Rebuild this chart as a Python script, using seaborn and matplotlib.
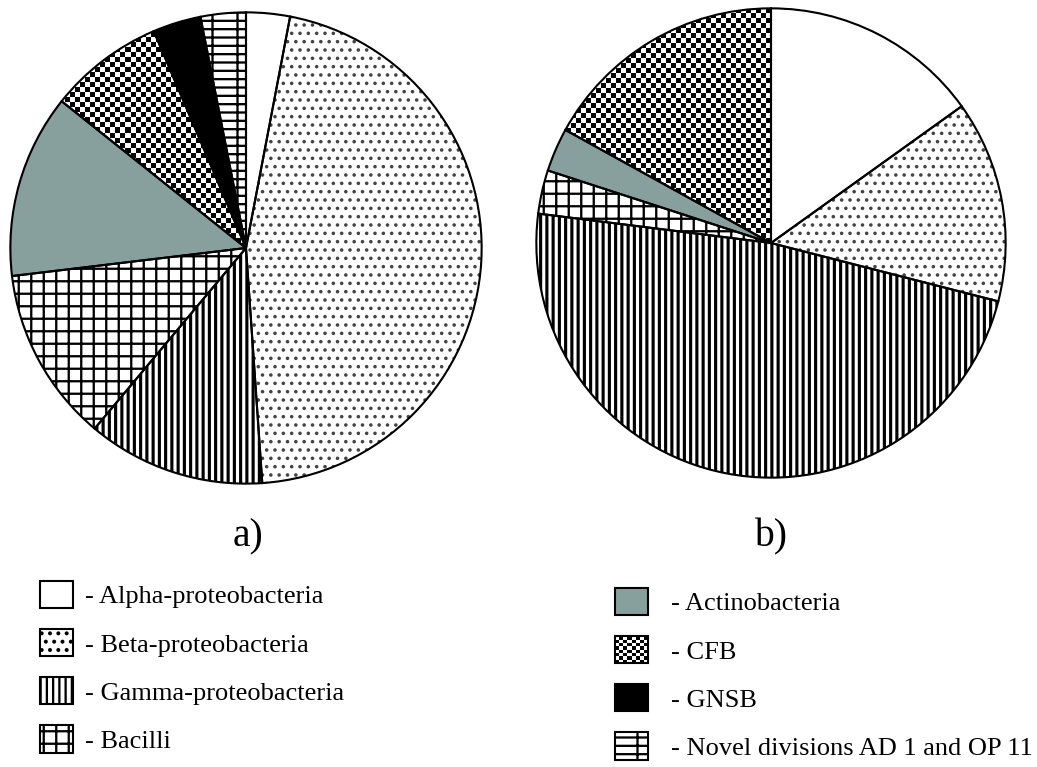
import numpy as np
import seaborn as sns
import matplotlib.pyplot as plt
from matplotlib.patches import Patch, Rectangle
from matplotlib.legend_handler import HandlerBase

# Shares of clone libraries (%)
categories = ["Alpha-proteobacteria", "Beta-proteobacteria", "Gamma-proteobacteria", "Bacilli",
              "Actinobacteria", "CFB", "GNSB", "Novel divisions AD 1 and OP 11"]
share_a = [3.0, 45.9, 12.2, 12.0, 12.6, 7.9, 3.3, 3.1]
share_b = [15.1, 13.9, 48.0, 3.0, 3.0, 17.0, 0.0, 0.0]
panel_labels = ["a)", "b)"]

# style per group: (face, hatch colour, hatch, hatch linewidth)
styles = {
    "Alpha-proteobacteria": ("white", "black", None, 1.0),
    "Beta-proteobacteria": ("white", "#444444", "...", 0.9),
    "Gamma-proteobacteria": ("white", "black", "||||", 1.5),
    "Bacilli": ("white", "black", "++", 1.1),
    "Actinobacteria": ("#879f9d", "black", None, 1.0),
    "CFB": ("white", "black", "checker", 1.0),
    "GNSB": ("black", "black", None, 1.0),
    "Novel divisions AD 1 and OP 11": ("white", "black", "---|", 1.1),
}

sns.set_theme(style="white")
plt.rcParams["font.family"] = ["Liberation Serif", "DejaVu Serif"]
plt.rcParams["text.color"] = "black"
plt.rcParams["hatch.linewidth"] = 1.1

fig = plt.figure(figsize=(1037 / 150, 767 / 150), dpi=150)
fig.patch.set_facecolor("white")


def set_hatch(patch, hatch, hlw):
    patch.set_hatch(hatch)
    if hasattr(patch, "set_hatch_linewidth"):
        patch.set_hatch_linewidth(hlw)


def draw_pie(ax, shares, radius_px):
    cats = [c for c, s in zip(categories, shares) if s > 0]
    vals = [s for s in shares if s > 0]
    wedges, _ = ax.pie(vals, startangle=90, counterclock=False, radius=1,
                       colors=[styles[c][0] for c in cats],
                       wedgeprops=dict(linewidth=0.3))
    for w, c in zip(wedges, cats):
        face, hcol, hatch, hlw = styles[c]
        w.set_edgecolor(hcol)
        if hatch == "checker":
            n = int(2 * radius_px / 5)
            board = np.add.outer(np.arange(n), np.arange(n)) % 2
            im = ax.imshow(board, cmap="gray", extent=(-1, 1, -1, 1),
                           interpolation="nearest", zorder=2)
            im.set_clip_path(w)
        elif hatch:
            set_hatch(w, hatch, hlw)
    # outlines on top
    outline, _ = ax.pie(vals, startangle=90, counterclock=False, radius=1,
                        wedgeprops=dict(facecolor="none", edgecolor="black", linewidth=1.0))
    for w in outline:
        w.set_zorder(3)
    ax.set_xlim(-1.01, 1.01)
    ax.set_ylim(-1.01, 1.01)
    ax.set_aspect("equal")
    ax.axis("off")


W, H = 1037, 767
ax1 = fig.add_axes([(246 - 238) / W, (H - 248 - 238) / H, 476 / W, 476 / H])
draw_pie(ax1, share_a, 236)
ax2 = fig.add_axes([(771 - 237) / W, (H - 243 - 237) / H, 474 / W, 474 / H])
draw_pie(ax2, share_b, 235)

fig.text(248 / W, 1 - 537 / H, panel_labels[0], ha="center", va="center", fontsize=19)
fig.text(771 / W, 1 - 537 / H, panel_labels[1], ha="center", va="center", fontsize=19)


class CheckerHandler(HandlerBase):
    def create_artists(self, legend, orig_handle, xdescent, ydescent, width, height, fontsize, trans):
        k = 8
        arts = [Rectangle((-xdescent, -ydescent), width, height, facecolor="white",
                          edgecolor="black", lw=1, transform=trans)]
        sw, sh = width / k, height / k
        for i in range(k):
            for j in range(k):
                if (i + j) % 2 == 0:
                    arts.append(Rectangle((-xdescent + i * sw, -ydescent + j * sh), sw, sh,
                                          facecolor="black", edgecolor="none", transform=trans))
        return arts


handles = []
for c in categories:
    face, hcol, hatch, hlw = styles[c]
    if hatch == "checker":
        handles.append(Patch(facecolor="white", edgecolor="black"))
    else:
        p = Patch(facecolor=face, edgecolor="black", linewidth=1.0)
        if hatch:
            set_hatch(p, hatch, hlw)
        handles.append(p)
labels = ["- " + c for c in categories]
hmap = {handles[5]: CheckerHandler()}

leg_kw = dict(frameon=False, fontsize=12.7, handlelength=1.25, handleheight=1.2,
              labelspacing=0.78, borderpad=0, borderaxespad=0, loc="upper left",
              bbox_transform=fig.transFigure, labelcolor="black")
leg1 = fig.legend(handles[:4], labels[:4], bbox_to_anchor=(40 / W, 1 - 581 / H),
                  handletextpad=0.45, **leg_kw)
leg2 = fig.legend(handles[4:], labels[4:], bbox_to_anchor=(615 / W, 1 - 588 / H),
                  handletextpad=0.87, handler_map=hmap, **leg_kw)

plt.savefig("out.png", dpi=150, facecolor="white")
